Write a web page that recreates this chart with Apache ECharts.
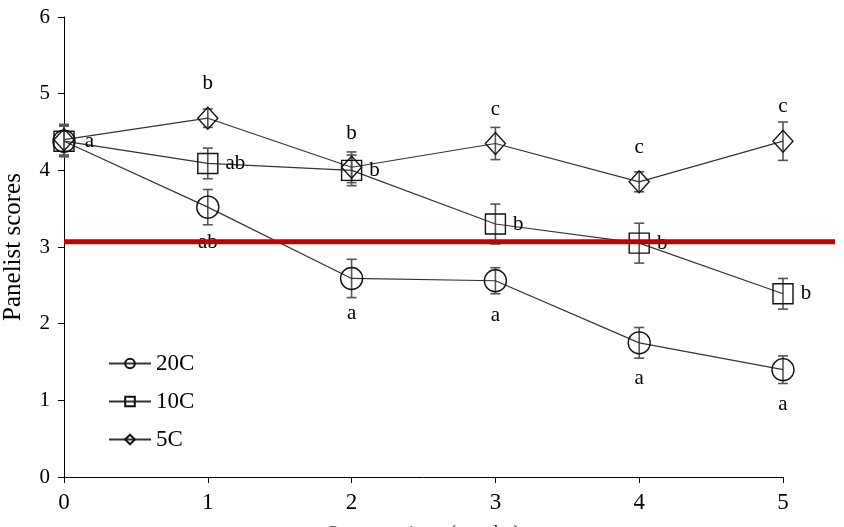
<!DOCTYPE html>
<html><head><meta charset="utf-8">
<script src="https://cdn.jsdelivr.net/npm/echarts@6/dist/echarts.min.js"></script>
<style>html,body{margin:0;padding:0;background:#fff}#c{width:844px;height:527px}</style>
</head><body><div id="c"></div>
<script>
var days = [0, 1, 2, 3, 4, 5];
var s20 = [4.38, 3.52, 2.59, 2.56, 1.75, 1.40];
var e20 = [0.20, 0.23, 0.25, 0.17, 0.20, 0.18];
var l20 = ['a', 'ab', 'a', 'a', 'a', 'a'];
var s10 = [4.38, 4.09, 4.00, 3.30, 3.05, 2.39];
var e10 = [0.20, 0.20, 0.20, 0.26, 0.26, 0.20];
var l10 = ['', 'ab', 'b', 'b', 'b', 'b'];
var s5 = [4.40, 4.68, 4.04, 4.35, 3.85, 4.38];
var e5 = [0.20, 0.12, 0.20, 0.21, 0.13, 0.25];
var l5 = ['', 'b', 'b', 'c', 'c', 'c'];
var threshold = 3.07;
var thresholdX = [0, 1];

var FONT = 'Liberation Serif';
function pts(vals, labels, pos, dist, firstPos) {
  return days.map(function (d, i) {
    var p = (i === 0 && firstPos) ? firstPos : pos;
    return {value: [d, vals[i]], label: {show: !!labels[i], formatter: labels[i], position: p, distance: (i===0&&firstPos)?9:dist}};
  });
}
function errs(vals, e) {
  return days.map(function (d, i) { return [d, vals[i] - e[i], vals[i] + e[i]]; });
}
function errRender(params, api) {
  var x = api.value(0);
  var lo = api.coord([x, api.value(1)]);
  var hi = api.coord([x, api.value(2)]);
  var w = 5;
  var st = {stroke: '#555', lineWidth: 1.6};
  return {type: 'group', children: [
    {type: 'line', shape: {x1: lo[0], y1: lo[1], x2: hi[0], y2: hi[1]}, style: st},
    {type: 'line', shape: {x1: lo[0]-w, y1: lo[1], x2: lo[0]+w, y2: lo[1]}, style: st},
    {type: 'line', shape: {x1: hi[0]-w, y1: hi[1], x2: hi[0]+w, y2: hi[1]}, style: st}
  ]};
}
function lineSeries(name, vals, labels, symbol, size, pos, dist, firstPos) {
  return {
    name: name, type: 'line', data: pts(vals, labels, pos, dist, firstPos),
    symbol: symbol, symbolSize: size, z: 3,
    lineStyle: {color: '#333', width: 1.2},
    itemStyle: {color: 'rgba(255,255,255,0)', borderColor: '#111', borderWidth: 1.4},
    label: {color: '#000', fontFamily: FONT, fontSize: 21},
    emphasis: {disabled: true}, animation: false
  };
}
var chart = echarts.init(document.getElementById('c'));
chart.setOption({
  animation: false,
  grid: [
    {left: 64, right: 61, top: 17, bottom: 50, containLabel: false, outerBoundsMode: 'none'},
    {left: 64, right: 9, top: 17, bottom: 50, containLabel: false, outerBoundsMode: 'none'}
  ],
  xAxis: [{
    type: 'value', min: 0, max: 5, interval: 1,
    axisLine: {lineStyle: {color: '#000', width: 1}},
    axisTick: {lineStyle: {color: '#000'}, length: 6},
    axisLabel: {color: '#000', fontFamily: FONT, fontSize: 23, margin: 14},
    splitLine: {show: false},
    name: 'Storage time (weeks)', nameLocation: 'middle', nameGap: 46,
    nameTextStyle: {color: '#444', fontFamily: FONT, fontSize: 23}
  }, {
    type: 'value', gridIndex: 1, min: 0, max: 1, show: false
  }],
  yAxis: [{
    type: 'value', min: 0, max: 6, interval: 1,
    axisLine: {show: true, lineStyle: {color: '#000', width: 1}},
    axisTick: {show: true, lineStyle: {color: '#000'}, length: 6},
    axisLabel: {color: '#000', fontFamily: FONT, fontSize: 21, margin: 14},
    splitLine: {show: false},
    name: 'Panelist scores', nameLocation: 'middle', nameGap: 38,
    nameTextStyle: {color: '#000', fontFamily: FONT, fontSize: 25}
  }, {
    type: 'value', gridIndex: 1, min: 0, max: 6, show: false
  }],
  legend: {
    orient: 'vertical', left: 108, top: 352, padding: 0, itemWidth: 42, itemHeight: 12, itemGap: 15,
    textStyle: {color: '#000', fontFamily: FONT, fontSize: 23, lineHeight: 23},
    data: ['20C', '10C', '5C']
  },
  series: [
    {type: 'line', name: 'threshold', xAxisIndex: 1, yAxisIndex: 1,
     data: thresholdX.map(function (x) { return [x, threshold]; }),
     symbol: 'none', z: 5, lineStyle: {color: '#c00000', width: 5}, silent: true, animation: false},
    {type: 'custom', renderItem: errRender, data: errs(s20, e20), z: 2, silent: true},
    {type: 'custom', renderItem: errRender, data: errs(s10, e10), z: 2, silent: true},
    {type: 'custom', renderItem: errRender, data: errs(s5, e5), z: 2, silent: true},
    lineSeries('20C', s20, l20, 'circle', 22, 'bottom', 13, 'right'),
    lineSeries('10C', s10, l10, 'rect', 20, 'right', 7),
    lineSeries('5C', s5, l5, 'diamond', [20, 22], 'top', 12)
  ]
});
</script></body></html>
